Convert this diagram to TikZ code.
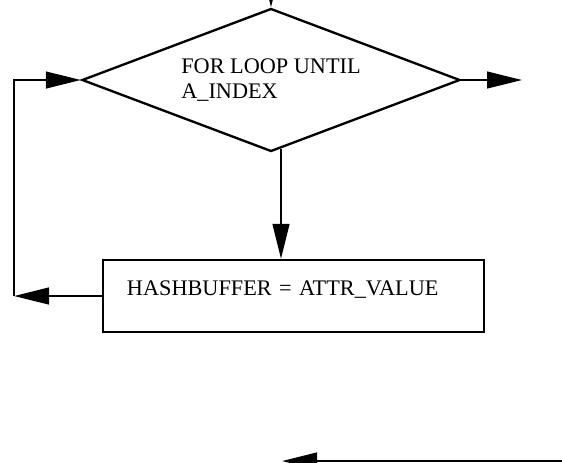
\documentclass[tikz,border=0pt]{standalone}
\usepackage{fontspec}
\setmainfont{Liberation Serif}
\usetikzlibrary{arrows.meta,shapes.geometric}

\begin{document}
\begin{tikzpicture}[x=0.03cm,y=-0.03cm,line width=2pt,
                    every node/.style={font=\fontsize{19}{22}\selectfont},
                    arr/.style={-{Triangle[length=1.05cm,width=0.5cm]}},
                    decision/.style={draw,diamond,aspect=2.64,inner sep=0pt,minimum width=11.34cm,minimum height=4.29cm,align=left},
                    process/.style={draw,rectangle,minimum width=11.43cm,inner xsep=0.72cm,inner ysep=0pt,
                                    text width=9.99cm,align=left,text height=1.05cm,text depth=1.11cm}]
                    \useasboundingbox (0,0) rectangle (562,462);
                    \node[decision] (loop) at (271,80) {FOR LOOP UNTIL\\A\_INDEX};
                    \node[process] (hash) at (293.5,296) {HASHBUFFER = ATTR\_VALUE};
                    \coordinate (in) at (271,-26);
                    \coordinate (exit) at (522,80);
                    \coordinate (back) at (14,296);
                    \coordinate (outr) at (566,461);
                    \coordinate (outl) at (282,461);
                    \draw[arr] (in) -- (loop.north);
                    \draw[arr] (loop.east) -- (exit);
                    \draw[arr] ([xshift=0.3cm,yshift=0.1cm]loop.south) -- ([xshift=0.3cm]loop.south |- hash.north);
                    \draw[arr] (hash.west) -- (back);
                    \draw[arr] (back) -- (back |- loop.west) -- (loop.west);
                    \draw[arr] (outr) -- (outl);
            \end{tikzpicture}
\end{document}
